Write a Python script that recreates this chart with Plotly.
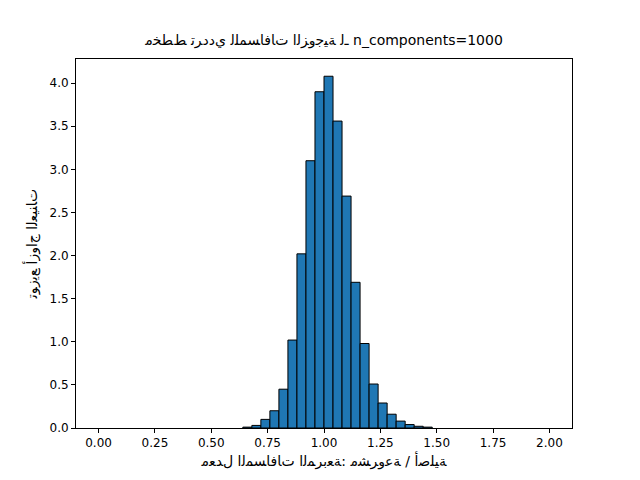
import plotly.graph_objects as go

bin_starts = [0.64, 0.68, 0.72, 0.76, 0.80, 0.84, 0.88, 0.92, 0.96, 1.00, 1.04,
              1.08, 1.12, 1.16, 1.20, 1.24, 1.28, 1.32, 1.36, 1.40, 1.44]
density = [0.01, 0.03, 0.10, 0.20, 0.45, 1.02, 2.02, 3.10, 3.90, 4.08, 3.56,
           2.69, 1.69, 0.98, 0.51, 0.29, 0.16, 0.08, 0.04, 0.02, 0.01]
bin_width = 0.04

title_text = "مخطط ترددي للمسافات الزوجية لـ n_components=1000"
xlabel = "معدل المسافات المربعة: مشروعة / أصلية"
ylabel = "توزيع أزواج العينات"

# presentation forms: isolated, final, initial, medial
FORMS = {
    "ا": (0xFE8D, 0xFE8E), "أ": (0xFE83, 0xFE84), "د": (0xFEA9, 0xFEAA),
    "ر": (0xFEAD, 0xFEAE), "ز": (0xFEAF, 0xFEB0), "و": (0xFEED, 0xFEEE),
    "ة": (0xFE93, 0xFE94),
    "ب": (0xFE8F, 0xFE90, 0xFE91, 0xFE92), "ت": (0xFE95, 0xFE96, 0xFE97, 0xFE98),
    "ج": (0xFE9D, 0xFE9E, 0xFE9F, 0xFEA0), "خ": (0xFEA5, 0xFEA6, 0xFEA7, 0xFEA8),
    "س": (0xFEB1, 0xFEB2, 0xFEB3, 0xFEB4), "ش": (0xFEB5, 0xFEB6, 0xFEB7, 0xFEB8),
    "ص": (0xFEB9, 0xFEBA, 0xFEBB, 0xFEBC), "ط": (0xFEC1, 0xFEC2, 0xFEC3, 0xFEC4),
    "ع": (0xFEC9, 0xFECA, 0xFECB, 0xFECC), "ف": (0xFED1, 0xFED2, 0xFED3, 0xFED4),
    "ل": (0xFEDD, 0xFEDE, 0xFEDF, 0xFEE0), "م": (0xFEE1, 0xFEE2, 0xFEE3, 0xFEE4),
    "ن": (0xFEE5, 0xFEE6, 0xFEE7, 0xFEE8), "ي": (0xFEF1, 0xFEF2, 0xFEF3, 0xFEF4),
}


def dual(c):
    return c == "ـ" or (c in FORMS and len(FORMS[c]) == 4)


def shaped_ltr(s):
    # the original shows the letters in logical order, left to right
    out = []
    for i, c in enumerate(s):
        if c not in FORMS:
            out.append(c)
            continue
        prev = s[i - 1] if i > 0 else ""
        nxt = s[i + 1] if i + 1 < len(s) else ""
        jp = dual(prev)
        jn = dual(c) and (nxt in FORMS or nxt == "ـ")
        f = FORMS[c]
        if jp and jn:
            k = 3
        elif jp:
            k = 1
        elif jn:
            k = 2
        else:
            k = 0
        out.append(chr(f[k]))
    return "\u202d" + "".join(out) + "\u202c"


fig = go.Figure(go.Bar(
    x=[b + bin_width / 2 for b in bin_starts], y=density, width=bin_width,
    marker=dict(color="#1f77b4", line=dict(color="black", width=1)),
))

axis = dict(showgrid=False, zeroline=False, showline=True, linecolor="black",
            mirror=True, ticks="outside", ticklen=4, tickcolor="black", automargin=False)
fig.update_layout(
    width=640, height=480, plot_bgcolor="white", paper_bgcolor="white",
    margin=dict(l=68, r=76, t=51, b=60), showlegend=False,
    font=dict(family="DejaVu Sans", size=12, color="black"),
    title=dict(text=shaped_ltr(title_text), x=0.5, xanchor="center", xref="paper",
               yref="container", y=1 - 32 / 480, yanchor="middle", font=dict(size=14)),
    xaxis=dict(axis, range=[-0.1, 2.1], tickvals=[0, 0.25, 0.5, 0.75, 1, 1.25, 1.5, 1.75, 2],
               ticktext=["0.00", "0.25", "0.50", "0.75", "1.00", "1.25", "1.50", "1.75", "2.00"],
               title=dict(text=shaped_ltr(xlabel), standoff=6)),
    yaxis=dict(axis, range=[0, 4.28], tickvals=[0, 0.5, 1, 1.5, 2, 2.5, 3, 3.5, 4],
               ticktext=["0.0", "0.5", "1.0", "1.5", "2.0", "2.5", "3.0", "3.5", "4.0"],
               title=dict(text=shaped_ltr(ylabel), standoff=8)),
)
fig.write_html("out.html")
